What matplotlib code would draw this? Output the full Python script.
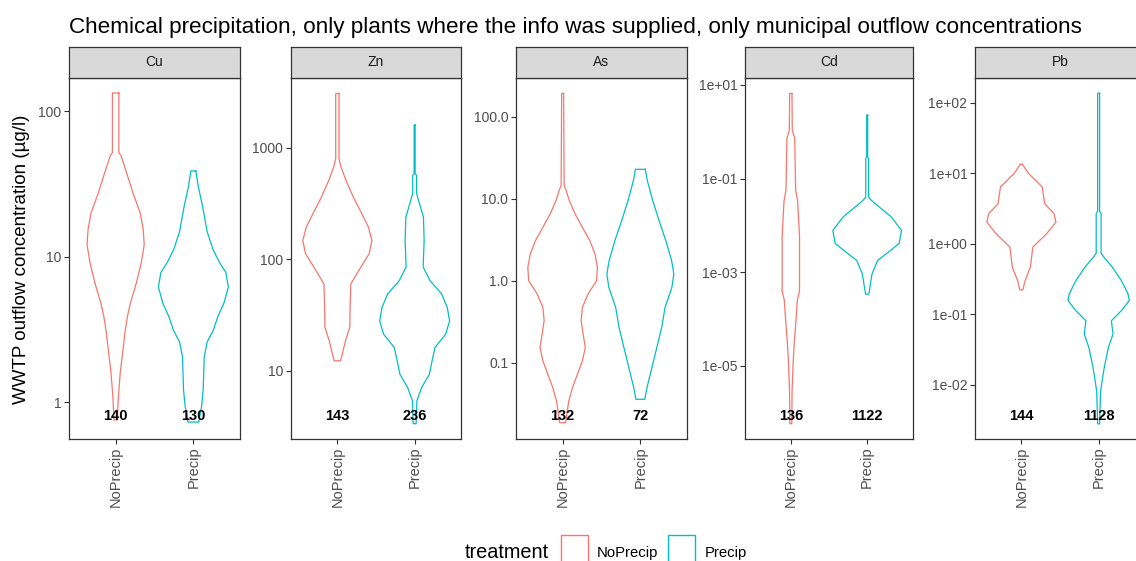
import numpy as np
import matplotlib.pyplot as plt
from matplotlib.patches import Rectangle

plt.rcParams['font.family'] = ['Liberation Sans', 'DejaVu Sans']

RED = '#F8766D'
CYAN = '#00BFC4'
GRAY20 = '#333333'
GRAY30 = '#4D4D4D'

metals = ['Cu', 'Zn', 'As', 'Cd', 'Pb']
treatments = ['NoPrecip', 'Precip']

# sample sizes printed under each violin
counts = {
    'Cu': ['140', '130'],
    'Zn': ['143', '236'],
    'As': ['132', '72'],
    'Cd': ['136', '1122'],
    'Pb': ['144', '1128'],
}

# violin outlines: concentration (ug/l) and relative density
cu_np_y = [134, 52, 50, 42, 27, 20, 15.4, 12.1, 9.1, 6.6, 4.8, 3.9, 3.1, 2.3, 1.6, 1.09, 0.755]
cu_np_d = [3.3, 3.3, 5.3, 9, 18, 25, 28, 29, 26, 21, 15, 12, 9.7, 7.5, 4.7, 2.8, 1.7]
cu_p_y = [39, 30.5, 22, 14.9, 11.2, 9.1, 7.8, 6.2, 4.8, 3.9, 3.1, 2.6, 2.05, 1.22, 0.93, 0.73]
cu_p_d = [2.5, 5, 9.5, 14, 20, 26.7, 33, 35.5, 31, 25, 20, 14, 11, 10, 8.3, 5.5]

zn_np_y = [3050, 796, 670, 508, 360, 255, 194, 147, 112, 85, 60, 37, 24.5, 18.6, 14.1, 12.3]
zn_np_d = [1.7, 1.7, 3.7, 8.8, 16.3, 25, 31.7, 35.3, 32.5, 24, 13.7, 13, 12.7, 8.3, 5, 3.2]
zn_p_y = [1590, 583, 564, 388, 336, 238, 147, 85, 64, 49, 37, 28, 21.3, 16.2, 12.3, 9.3, 7.1, 5.4, 3.36]
zn_p_d = [0.5, 0.5, 2, 2, 4, 9, 9.7, 8.7, 15.8, 27.5, 33.3, 35.7, 31.7, 20.8, 17.8, 15, 7.2, 2.3, 1.5]

as_np_y = [193, 14.6, 12.7, 9.55, 6.6, 4.5, 3.1, 2.13, 1.46, 1.0, 0.69, 0.47, 0.325, 0.223, 0.153,
           0.105, 0.072, 0.0495, 0.034, 0.0185]
as_np_d = [1, 1.5, 3.5, 6.7, 12.5, 20, 27.5, 32.8, 35.3, 34.5, 25.8, 20, 18.8, 20.8, 23,
           20, 15, 10, 6.2, 3]
as_p_y = [22.9, 16.8, 9.55, 5.4, 3.1, 1.76, 1.21, 0.83, 0.47, 0.27, 0.153, 0.087, 0.0495, 0.0357]
as_p_d = [5, 7, 12.5, 19, 25.8, 31.7, 34, 32, 25, 21.7, 16.7, 11.7, 6.7, 4.5]

cd_np_y = [6.6, 1.09, 0.73, 0.056, 0.034, 0.0058, 4.0e-4, 2.5e-4, 9.2e-5, 3.4e-5, 1.28e-5, 2.9e-6, 5.8e-7]
cd_np_d = [1.2, 1.5, 4.0, 5.0, 7.0, 9.0, 9.0, 6.7, 5.3, 3.7, 2.5, 1.3, 1.0]
cd_p_y = [2.27, 0.29, 0.27, 0.040, 0.034, 0.0247, 0.0151, 0.0078, 0.0041, 0.0025, 0.00178, 9.2e-4, 3.4e-4]
cd_p_d = [0.5, 0.5, 1.5, 1.5, 4.5, 12.5, 25, 35.5, 33, 20, 10.8, 5, 1.7]

pb_np_y = [13.4, 9.9, 6.4, 3.7, 2.68, 2.03, 1.39, 0.90, 0.466, 0.30, 0.222]
pb_np_d = [1, 7.5, 21.3, 23.8, 33.3, 35.3, 25.8, 11.7, 9.2, 3.8, 1.5]
pb_p_y = [136, 2.88, 2.7, 0.73, 0.65, 0.466, 0.30, 0.195, 0.157, 0.113, 0.081, 0.0526, 0.034,
          0.0176, 0.0082, 0.0028]
pb_p_d = [1, 1, 2.5, 2.5, 5.3, 14, 23.3, 30, 31.3, 23.3, 13, 14.7, 10, 5.7, 2, 1]

violins = {
    'Cu': [(cu_np_y, cu_np_d), (cu_p_y, cu_p_d)],
    'Zn': [(zn_np_y, zn_np_d), (zn_p_y, zn_p_d)],
    'As': [(as_np_y, as_np_d), (as_p_y, as_p_d)],
    'Cd': [(cd_np_y, cd_np_d), (cd_p_y, cd_p_d)],
    'Pb': [(pb_np_y, pb_np_d), (pb_p_y, pb_p_d)],
}

yticks = {
    'Cu': ([1, 10, 100], ['1', '10', '100']),
    'Zn': ([10, 100, 1000], ['10', '100', '1000']),
    'As': ([0.1, 1, 10, 100], ['0.1', '1.0', '10.0', '100.0']),
    'Cd': ([1e-5, 1e-3, 1e-1, 10], ['1e-05', '1e-03', '1e-01', '1e+01']),
    'Pb': ([1e-2, 1e-1, 1, 10, 100], ['1e-02', '1e-01', '1e+00', '1e+01', '1e+02']),
}
ylims = {
    'Cu': (0.558, 170),
    'Zn': (2.45, 4200),
    'As': (0.0117, 298),
    'Cd': (2.73e-7, 14.1),
    'Pb': (0.00171, 224),
}

W, H = 1136, 561
fig = plt.figure(figsize=(W / 100, H / 100), dpi=100)

# panel left edges and widths in pixels
lefts = [69, 291, 516, 745, 975]
widths = [171, 170, 171, 168, 170]
top_px, bot_px, strip_px = 78, 439, 31
dens_max = 35.5

for m, lx, wx in zip(metals, lefts, widths):
    ax = fig.add_axes([lx / W, 1 - bot_px / H, wx / W, (bot_px - top_px) / H])
    ax.set_yscale('log')
    ax.set_xlim(0.4, 2.6)
    ax.set_ylim(*ylims[m])
    for i, ((yv, dv), col) in enumerate(zip(violins[m], [RED, CYAN])):
        yv = np.array(yv)
        hw = np.array(dv) / dens_max * 0.45
        xs = np.concatenate([i + 1 + hw, (i + 1 - hw)[::-1], [i + 1 + hw[0]]])
        ys = np.concatenate([yv, yv[::-1], [yv[0]]])
        ax.plot(xs, ys, color=col, lw=0.9)
        ax.text(i + 1, 0.064, counts[m][i], transform=ax.get_xaxis_transform(),
                ha='center', va='center', fontsize=10.5, fontweight='bold', color='black')
    ax.set_xticks([1, 2])
    ax.set_xticklabels(treatments, rotation=90, va='top', ha='center')
    ax.set_yticks(yticks[m][0])
    ax.set_yticklabels(yticks[m][1])
    ax.yaxis.set_minor_locator(plt.NullLocator())
    ax.tick_params(axis='both', length=3.5, width=0.8, color=GRAY20, labelcolor=GRAY30,
                   labelsize=10, pad=2)
    ax.tick_params(axis='x', labelsize=10.5)
    for s in ax.spines.values():
        s.set_color(GRAY20)
        s.set_linewidth(0.9)

    sax = fig.add_axes([lx / W, 1 - top_px / H, wx / W, strip_px / H])
    sax.set_facecolor('#D9D9D9')
    sax.set_xticks([])
    sax.set_yticks([])
    for s in sax.spines.values():
        s.set_color(GRAY20)
        s.set_linewidth(0.9)
    sax.text(0.5, 0.5, m, ha='center', va='center', fontsize=10, color='#1A1A1A',
             transform=sax.transAxes)

fig.text(69 / W, 1 - 28 / H, 'Chemical precipitation, only plants where the info was supplied, '
         'only municipal outflow concentrations', ha='left', va='center', fontsize=16.2)
fig.text(22 / W, 1 - 259 / H, 'WWTP outflow concentration (µg/l)', rotation=90,
         ha='center', va='center', fontsize=13.5)

# legend at the bottom (partly cut off, as in the original)
fig.text(465 / W, 1 - 552 / H, 'treatment', ha='left', va='center', fontsize=14.3)
for kx, tx, col, lab in [(561, 597, RED, 'NoPrecip'), (668, 705, CYAN, 'Precip')]:
    fig.patches.append(Rectangle((kx / W, 1 - 563 / H), 27 / W, 28 / H, transform=fig.transFigure,
                                 facecolor='white', edgecolor=col, lw=1.0))
    fig.text(tx / W, 1 - 553 / H, lab, ha='left', va='center', fontsize=10.7)

fig.savefig('out.png', dpi=100)
